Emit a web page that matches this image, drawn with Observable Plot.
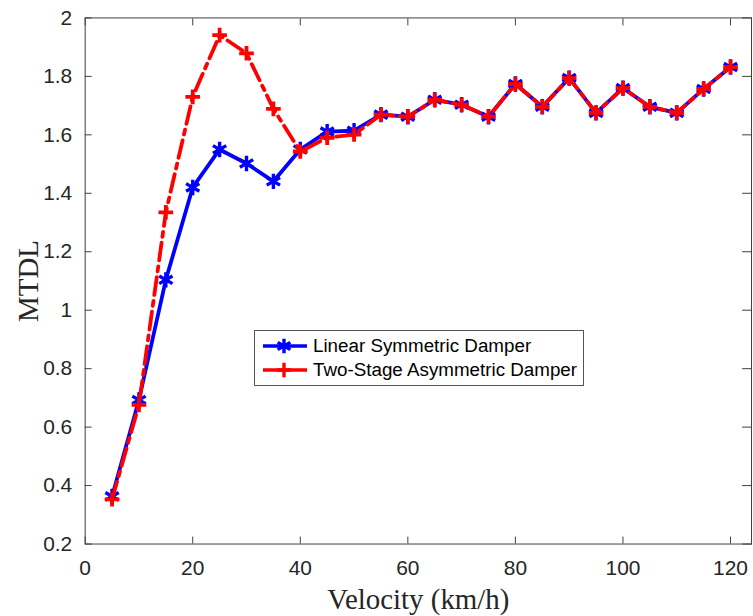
<!DOCTYPE html>
<html><head><meta charset="utf-8">
<script src="https://cdn.jsdelivr.net/npm/d3@7"></script>
<script src="https://cdn.jsdelivr.net/npm/@observablehq/plot@0.6"></script>
<style>
html,body{margin:0;padding:0;overflow:hidden;background:#fff;width:753px;height:616px}
#chart{position:relative;width:753px;height:616px;overflow:hidden}
#chart svg{display:block}
.legend{position:absolute;left:254px;top:330px;width:330px;height:56px;border:1px solid #555;background:#fff;box-sizing:border-box;font-family:"Liberation Sans",Arial,Helvetica,sans-serif;font-size:18.8px;color:#000}
.legend .row{position:absolute;left:0;height:24px;display:flex;align-items:center;white-space:nowrap}
.legend svg{display:block}
</style></head><body><div id="chart"></div>
<script>
const velocity = [5,10,15,20,25,30,35,40,45,50,55,60,65,70,75,80,85,90,95,100,105,110,115,120];
const linearSymmetric = [0.363,0.693,1.104,1.420,1.550,1.502,1.441,1.550,1.611,1.614,1.669,1.662,1.720,1.703,1.662,1.774,1.696,1.794,1.675,1.760,1.696,1.675,1.757,1.832];
const twoStageAsymmetric = [0.353,0.676,1.335,1.730,1.941,1.879,1.689,1.543,1.590,1.601,1.669,1.662,1.720,1.703,1.662,1.774,1.696,1.794,1.675,1.760,1.696,1.675,1.757,1.832];
const xTicks = [0,20,40,60,80,100,120];
const yTicks = [0.2,0.4,0.6,0.8,1,1.2,1.4,1.6,1.8,2];
const seriesNames = ["Linear Symmetric Damper","Two-Stage Asymmetric Damper"];
const seriesColors = ["#0000ff","#ff0000"];

const sansFont = "'Liberation Sans', Arial, Helvetica, sans-serif";
const serifFont = "'Liberation Serif', 'Times New Roman', serif";
const axisStroke = "#404040";
const textFill = "#262626";
const tickLen = 7;

const chart = Plot.plot({
  width: 756, height: 616,
  marginLeft: 85, marginRight: 2, marginTop: 17.5, marginBottom: 70.3,
  style: {fontFamily: sansFont, background: "#fff", overflow: "visible"},
  x: {domain: [0, 123.9]},
  y: {domain: [0.2, 2]},
  marks: [
    Plot.frame({stroke: axisStroke, strokeWidth: 1}),
    // inward ticks
    Plot.axisX({ticks: xTicks, tickSize: tickLen, dy: -tickLen, tickFormat: () => "", stroke: axisStroke, label: null}),
    Plot.axisX({ticks: xTicks, anchor: "top", tickSize: tickLen, dy: tickLen, tickFormat: () => "", stroke: axisStroke, label: null}),
    Plot.axisY({ticks: yTicks, tickSize: tickLen, dx: tickLen, tickFormat: () => "", stroke: axisStroke, label: null}),
    Plot.axisY({ticks: yTicks, anchor: "right", tickSize: 10, dx: -10, tickFormat: () => "", stroke: axisStroke, label: null}),
    // tick labels
    Plot.axisX({ticks: xTicks, tickSize: 0, tickPadding: 16, tickFormat: d => String(d), fontSize: 21, fill: textFill, label: null}),
    Plot.axisY({ticks: yTicks, tickSize: 0, tickPadding: 13, tickFormat: d => String(+d.toFixed(1)), fontSize: 21, fill: textFill, label: null}),
    // axis titles
    Plot.axisX({ticks: [], label: "Velocity (km/h)", labelAnchor: "center", labelOffset: 65, labelArrow: false, fontFamily: serifFont, fontSize: 29, fill: textFill}),
    Plot.axisY({ticks: [], label: "MTDL", labelAnchor: "center", labelOffset: 68, labelArrow: false, fontFamily: serifFont, fontSize: 29, fill: textFill}),
    // series
    Plot.line(linearSymmetric, {x: velocity, y: linearSymmetric, stroke: seriesColors[0], strokeWidth: 3.8, strokeLinejoin: "round"}),
    Plot.dot(linearSymmetric, {x: velocity, y: linearSymmetric, symbol: "asterisk", r: 7.3, stroke: seriesColors[0], strokeWidth: 3.4}),
    Plot.line(twoStageAsymmetric, {x: velocity, y: twoStageAsymmetric, stroke: seriesColors[1], strokeWidth: 3.8, strokeDasharray: "18,6,5,6", strokeLinejoin: "round"}),
    Plot.dot(twoStageAsymmetric, {x: velocity, y: twoStageAsymmetric, symbol: "plus", r: 4.8, stroke: seriesColors[1], strokeWidth: 3.8})
  ]
});
const host = document.getElementById("chart");
host.appendChild(chart);

// legend
const legend = document.createElement("div");
legend.className = "legend";
const symbols = [d3.symbolAsterisk, d3.symbolPlus];
const sizes = [150, 70];
seriesNames.forEach((name, i) => {
  const row = document.createElement("div");
  row.className = "row";
  row.style.top = (i === 0 ? 3 : 27) + "px";
  const s = d3.create("svg").attr("width", 58).attr("height", 24);
  s.append("line").attr("x1", 8).attr("x2", 52).attr("y1", 12).attr("y2", 12)
    .attr("stroke", seriesColors[i]).attr("stroke-width", 3.5);
  s.append("path").attr("transform", "translate(29,12)")
    .attr("d", d3.symbol(symbols[i], sizes[i])())
    .attr("fill", "none").attr("stroke", seriesColors[i]).attr("stroke-width", 3.4);
  row.appendChild(s.node());
  const t = document.createElement("span");
  t.textContent = name;
  row.appendChild(t);
  legend.appendChild(row);
});
host.appendChild(legend);
</script>
</body></html>
